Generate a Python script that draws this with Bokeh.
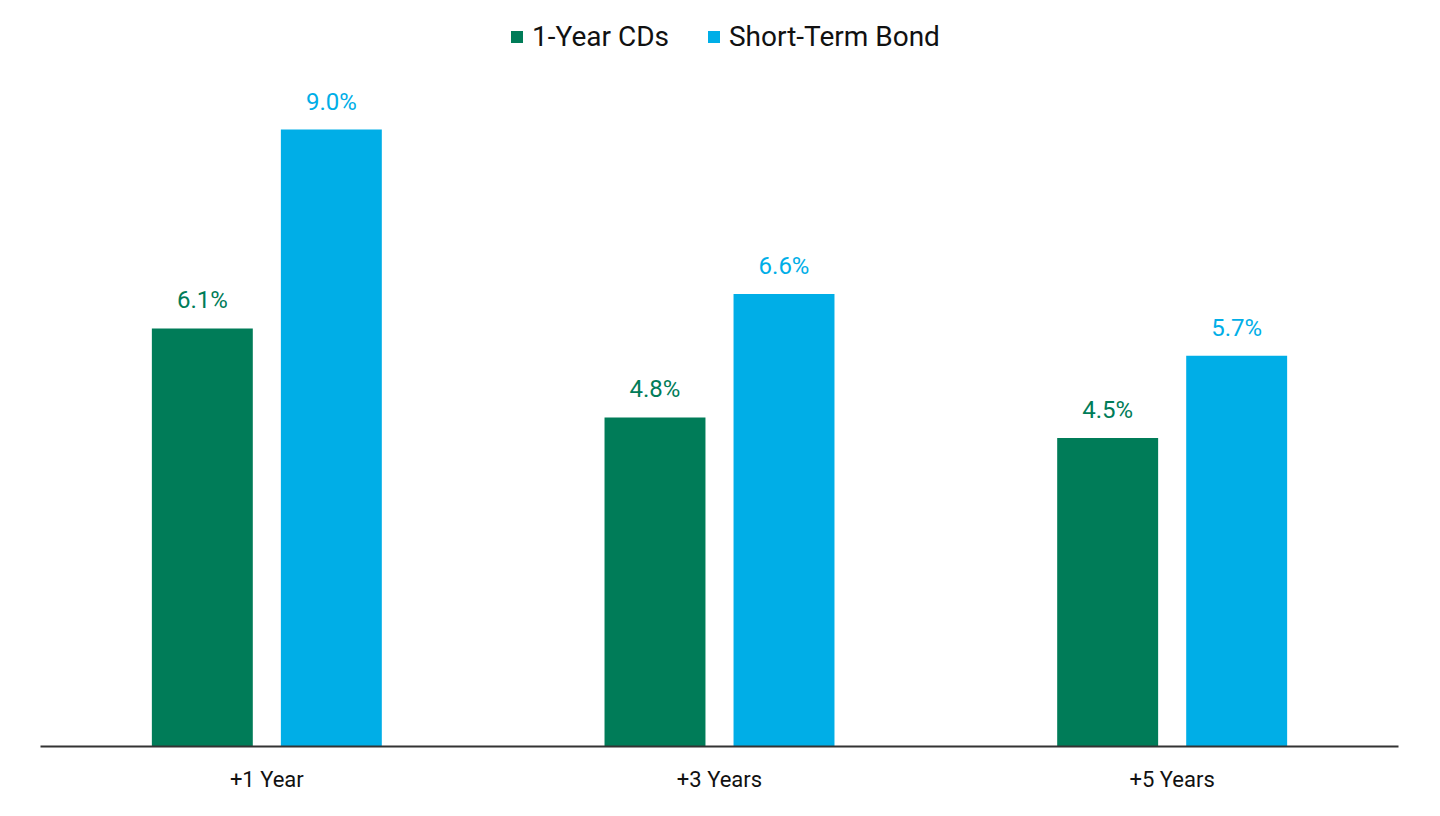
from bokeh.plotting import figure
from bokeh.models import ColumnDataSource, FactorRange, Legend, LegendItem, Range1d
from bokeh.transform import dodge
from bokeh.embed import file_html
from bokeh.resources import INLINE

periods = ["+1 Year", "+3 Years", "+5 Years"]
cds = [6.1, 4.8, 4.5]
bond = [9.0, 6.6, 5.7]
series_names = ["1-Year CDs", "Short-Term Bond"]

GREEN = "#007C58"
BLUE = "#00AEE7"

src = ColumnDataSource(dict(
    periods=periods,
    cds=cds,
    bond=bond,
    cds_lbl=[f"{v:.1f}%" for v in cds],
    bond_lbl=[f"{v:.1f}%" for v in bond],
))

p = figure(
    x_range=FactorRange(*periods, range_padding=0),
    y_range=Range1d(0, 10.65),
    width=1432, height=808,
    output_backend="svg", toolbar_location=None,
    min_border_left=40, min_border_right=34, min_border_top=16, min_border_bottom=62,
)

r1 = p.vbar(x=dodge("periods", -0.1425, range=p.x_range), top="cds", width=0.223,
            source=src, color=GREEN, line_color=None)
r2 = p.vbar(x=dodge("periods", 0.1425, range=p.x_range), top="bond", width=0.223,
            source=src, color=BLUE, line_color=None)

p.text(x=dodge("periods", -0.1425, range=p.x_range), y="cds", text="cds_lbl", source=src,
       text_align="center", text_baseline="alphabetic", y_offset=-28,
       text_font_size="24px", text_color=GREEN, text_font={"value": "Roboto"})
p.text(x=dodge("periods", 0.1425, range=p.x_range), y="bond", text="bond_lbl", source=src,
       text_align="center", text_baseline="alphabetic", y_offset=-28,
       text_font_size="24px", text_color=BLUE, text_font={"value": "Roboto"})

legend = Legend(items=[LegendItem(label=series_names[0], renderers=[r1]),
                       LegendItem(label=series_names[1], renderers=[r2])],
                orientation="horizontal", location=(469, 693),
                label_text_font="Roboto", label_text_font_size="28px", label_text_color="#111111",
                glyph_width=15, glyph_height=15, label_standoff=8, spacing=37,
                padding=0, margin=0, border_line_color=None, background_fill_alpha=0)
p.add_layout(legend)

p.yaxis.visible = False
p.xgrid.grid_line_color = None
p.ygrid.grid_line_color = None
p.outline_line_color = None
p.xaxis.axis_line_width = 2
p.xaxis.axis_line_color = "#333333"
p.xaxis.major_tick_line_color = None
p.xaxis.minor_tick_line_color = None
p.xaxis.major_label_text_font = "Roboto"
p.xaxis.major_label_text_font_size = "22px"
p.xaxis.major_label_text_color = "#111111"
p.xaxis.major_label_standoff = 14
p.xaxis.group_text_font_size = "0px"

open("out.html", "w").write(file_html(p, INLINE))
